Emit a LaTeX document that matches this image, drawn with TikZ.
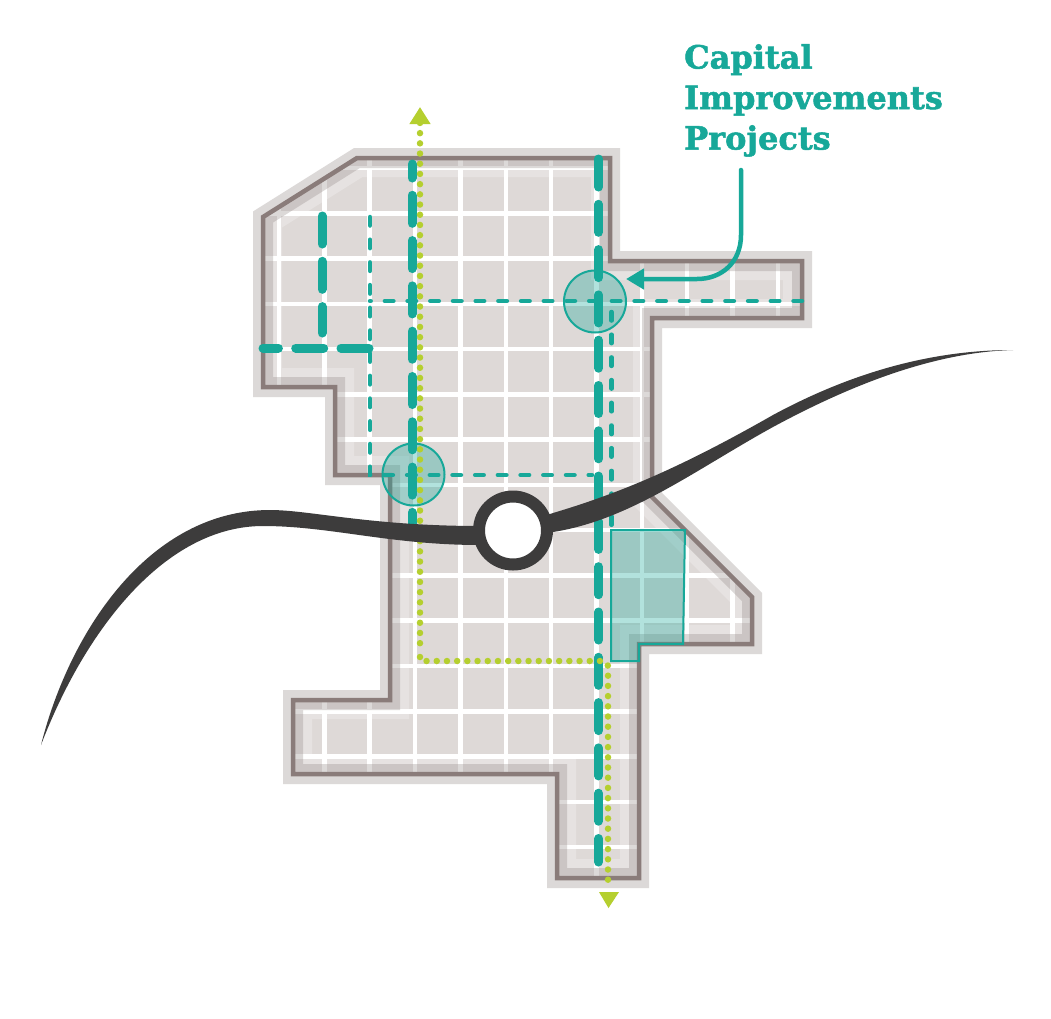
\documentclass[tikz,border=0pt]{standalone}
\usepackage{fontspec}
\newfontfamily\labelfont{DejaVu Serif}[BoldFont={DejaVu Serif Bold},BoldFeatures={FakeBold=1.6}]
\usetikzlibrary{arrows.meta}
\definecolor{teal1}{HTML}{17A899}
\definecolor{lime1}{HTML}{B5CF2F}
\definecolor{road1}{HTML}{3D3C3C}
\definecolor{site1}{HTML}{DED9D7}
\definecolor{halo1}{HTML}{968C8A}
\definecolor{edge1}{HTML}{8A7C7A}
\newcommand{\siteoutline}{(357,158) -- (610,158) -- (610,261) -- (802,261) -- (802,318) -- (652,318) -- (652,497) -- (752,597) -- (752,644) -- (639,644) -- (639,878) -- (557,878) -- (557,774) -- (293,774) -- (293,700) -- (390,700) -- (390,475) -- (335,475) -- (335,387) -- (263,387) -- (263,217) -- cycle}
\begin{document}
\begin{tikzpicture}[x=1pt, y=-1pt,
    bigdash/.style={teal1, line width=9pt, line cap=round, dash pattern=on 28pt off 17.3pt},
    thindash/.style={teal1, line width=4.5pt, line cap=round, dash pattern=on 8.5pt off 14.2pt},
    limedots/.style={lime1, line width=6.5pt, line cap=round, dash pattern=on 0pt off 10.2pt},
    project/.style={draw=teal1, line width=2pt, fill=teal1, fill opacity=0.33}]
  \useasboundingbox (0,0) rectangle (1051,1018);
  \fill[white] (0,0) rectangle (1051,1018);
  \fill[site1] \siteoutline;
  \begin{scope}
    \clip \siteoutline;
    \foreach \i in {0,...,11}
      \draw[white, line width=4.5pt] (279+45.35*\i,150) -- (279+45.35*\i,890);
    \foreach \i in {0,...,15}
      \draw[white, line width=4.5pt] (255,168+45.27*\i) -- (810,168+45.27*\i);
    \draw[white, opacity=0.25, line width=38pt] \siteoutline;
  \end{scope}
  \draw[halo1, opacity=0.33, line width=20pt] \siteoutline;
  \draw[edge1, line width=4.5pt] \siteoutline;
  \node[project, circle, minimum size=62pt, inner sep=0pt] (hub1) at (595,301.5) {};
  \node[project, circle, minimum size=62pt, inner sep=0pt] (hub2) at (413.5,474.5) {};
  \draw[thindash] (370,217) -- (370,475) -- (592,475);
  \draw[thindash] (802,301) -- (370,301);
  \draw[thindash] (611.5,312) -- (611.5,526);
  \draw[bigdash, dash phase=14pt] (412,164) -- (412,527);
  \draw[bigdash] (598.5,159) -- (598.5,862);
  \draw[bigdash] (369,348) -- (263,348);
  \draw[bigdash] (322,216) -- (322,333);
  \draw[project] (611,530) -- (685,530) -- (683,644) -- (639,644) -- (639,661) -- (611,661) -- cycle;
  \draw[limedots, {Triangle[length=17pt,width=20pt]}-] (420,107) -- (420,650);
  \draw[limedots, rounded corners=5pt] (420,657) -- (420,661) -- (608,661) -- (608,885);
  \fill[lime1] (599,892) -- (619,892) -- (608.5,908) -- cycle;
  \fill[road1] (41,745) .. controls (70,630) and (150,510) .. (270,510)
    .. controls (310,510) and (370,526) .. (480,526)
    .. controls (510,526) and (535,519) .. (553,513)
    .. controls (620,493) and (680,468) .. (773,415)
    .. controls (860,368) and (940,350) .. (1013,350)
    .. controls (940,352) and (860,380) .. (773,427)
    .. controls (695,470) and (630,520) .. (553,532)
    .. controls (535,538) and (510,545) .. (480,545)
    .. controls (390,545) and (330,526) .. (263,526)
    .. controls (165,526) and (85,630) .. (41,745) -- cycle;
  \node[circle, draw=road1, fill=white, line width=12pt, minimum size=68pt, inner sep=0pt] (hub3) at (513,530.5) {};
  \node[teal1, anchor=north west, align=left, inner sep=0pt, font=\labelfont\bfseries\fontsize{32}{40.5}\selectfont] (projects) at (684,44) {Capital\\Improvements\\Projects};
  \coordinate (calloutstart) at (741,170);
  \coordinate (calloutend) at (626,279);
  \draw[teal1, line width=4.5pt, line cap=round, -{Triangle[length=18pt,width=20pt]}] (calloutstart) -- (741,235) .. controls (741,262) and (722,279) .. (697,279) -- (calloutend);
\end{tikzpicture}
\end{document}
